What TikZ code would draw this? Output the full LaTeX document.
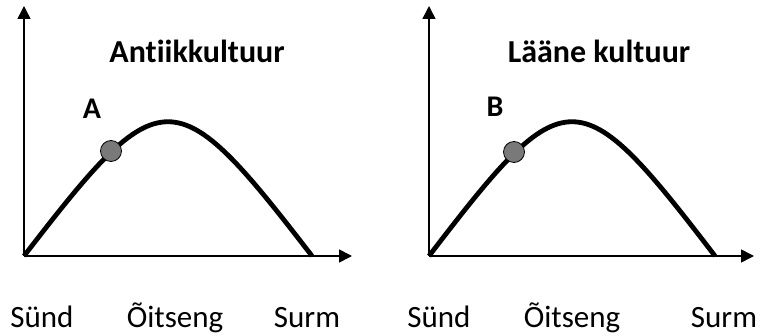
\documentclass[tikz,border=0pt]{standalone}
\usepackage{fontspec}
\setmainfont[Ligatures=NoCommon]{Carlito}
\usetikzlibrary{arrows.meta}
\begin{document}
\begin{tikzpicture}[x=1pt,y=-1pt,
  axis/.style={line width=1.6pt,-{Triangle[length=13pt,width=13pt]}},
  curve/.style={line width=4.8pt},
  dot/.style={circle,draw=black,line width=0.8pt,fill=gray!95!black,minimum size=21pt,inner sep=0pt},
  title/.style={anchor=base,inner sep=0pt,font=\fontsize{32}{36}\selectfont\bfseries},
  letter/.style={anchor=base,inner sep=0pt,font=\fontsize{30}{34}\selectfont\bfseries},
  lbl/.style={anchor=base,inner sep=0pt,font=\fontsize{31}{36}\selectfont}]
\useasboundingbox (0,0) rectangle (760,336);
% left panel
\coordinate (o1) at (24,256);
\coordinate (y1) at (24,6);
\coordinate (x1) at (352,256);
\coordinate (e1) at (312,256);
\draw[axis] (o1) -- (y1);
\draw[axis] (o1) -- (x1);
\draw[curve] (o1) .. controls (162,77) and (174,77) .. (e1);
\node[dot] (d1) at (111,151) {};
\node[letter] (A) at (92,119) {A};
\node[title] (t1) at (197,63) {Antiikkultuur};
\node[lbl] (s1) at (42,328) {Sünd};
\node[lbl] (o1l) at (175,328) {Õitseng};
\node[lbl] (m1) at (307,328) {Surm};
% right panel
\coordinate (o2) at (429,256);
\coordinate (y2) at (429,6);
\coordinate (x2) at (754,256);
\coordinate (e2) at (715,256);
\draw[axis] (o2) -- (y2);
\draw[axis] (o2) -- (x2);
\draw[curve] (o2) .. controls (566,77) and (578,77) .. (e2);
\node[dot] (d2) at (514,152) {};
\node[letter] (B) at (495,117) {B};
\node[title] (t2) at (599,63) {Lääne kultuur};
\node[lbl] (s2) at (439,328) {Sünd};
\node[lbl] (o2l) at (572,328) {Õitseng};
\node[lbl] (m2) at (724,328) {Surm};
\end{tikzpicture}
\end{document}
